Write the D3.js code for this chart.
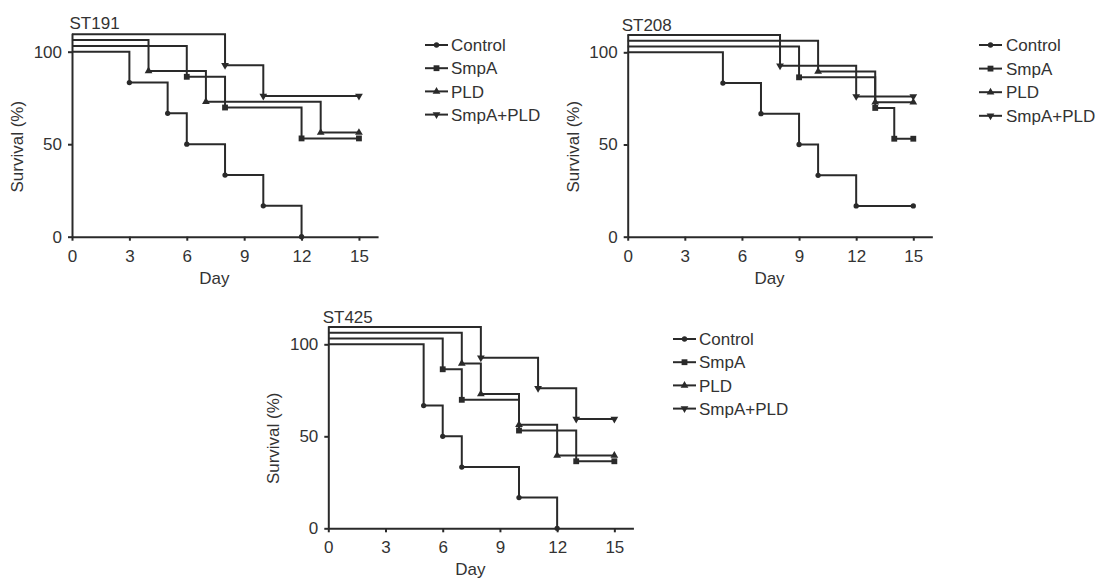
<!DOCTYPE html>
<html>
<head>
<meta charset="utf-8">
<script src="https://cdn.jsdelivr.net/npm/d3@7"></script>
<style>
  html, body { margin: 0; padding: 0; background: #fff; }
  svg { display: block; font-family: "Liberation Sans", Arial, Helvetica, sans-serif; }
</style>
</head>
<body>
<svg id="fig" width="1103" height="579"></svg>
<script>
// Kaplan–Meier survival curves for three strains, four treatment groups each.
const groups = ["Control", "SmpA", "PLD", "SmpA+PLD"];
const xTicks = [0, 3, 6, 9, 12, 15];
const yTicks = [0, 50, 100];
const strains = ["ST191", "ST208", "ST425"];

// Step points: day of each event and survival (%) after it.
const st191Days = [
  [0, 3, 5, 6, 8, 10, 12],
  [0, 6, 8, 12, 15],
  [0, 4, 7, 13, 15],
  [0, 8, 10, 15]
];
const st191Surv = [
  [100, 83.3, 66.7, 50, 33.3, 16.7, 0],
  [100, 83.3, 66.7, 50, 50],
  [100, 83.3, 66.7, 50, 50],
  [100, 83.3, 66.7, 66.7]
];

const st208Days = [
  [0, 5, 7, 9, 10, 12, 15],
  [0, 9, 13, 14, 15],
  [0, 10, 13, 15],
  [0, 8, 12, 15]
];
const st208Surv = [
  [100, 83.3, 66.7, 50, 33.3, 16.7, 16.7],
  [100, 83.3, 66.7, 50, 50],
  [100, 83.3, 66.7, 66.7],
  [100, 83.3, 66.7, 66.7]
];

const st425Days = [
  [0, 5, 6, 7, 10, 12],
  [0, 6, 7, 10, 13, 15],
  [0, 7, 8, 10, 12, 15],
  [0, 8, 11, 13, 15]
];
const st425Surv = [
  [100, 66.7, 50, 33.3, 16.7, 0],
  [100, 83.3, 66.7, 50, 33.3, 33.3],
  [100, 83.3, 66.7, 50, 33.3, 33.3],
  [100, 83.3, 66.7, 50, 50]
];

const strainDays = [st191Days, st208Days, st425Days];
const strainSurv = [st191Surv, st208Surv, st425Surv];

// ---- drawing ----
const INK = "#2a2a2a";
const TEXT = "#333";
const FONT = 17;
const STAGGER = 3.13;   // vertical stagger between curves, in % units

const symbols = [d3.symbolCircle, d3.symbolSquare, d3.symbolTriangle, d3.symbolTriangle];
const symbolSize = [22, 34, 26, 26];
const symbolRot = [0, 0, 0, 180];

const svg = d3.select("#fig");

function marker(g, i, x, y) {
  g.append("path")
    .attr("d", d3.symbol().type(symbols[i]).size(symbolSize[i])())
    .attr("transform", `translate(${x},${y}) rotate(${symbolRot[i]})`)
    .attr("fill", INK);
}

const panels = [
  { x0: 72,    y0: 236.7, dx: 19.13, dy: 1.85,  titleX: 69.5,  titleY: 28.5,
    ylabX: 23,  ylabY: 146.7, dayY: 284,
    leg: { x: 425, tx: 451, y: 45, step: 23.2 } },
  { x0: 627.7, y0: 236.7, dx: 19.04, dy: 1.844, titleX: 621.7, titleY: 30.5,
    ylabX: 579, ylabY: 146.7, dayY: 284,
    leg: { x: 979, tx: 1006, y: 45, step: 23.6 } },
  { x0: 328.3, y0: 528.3, dx: 19.07, dy: 1.84,  titleX: 322.7, titleY: 322.7,
    ylabX: 279, ylabY: 438.3, dayY: 575,
    leg: { x: 673, tx: 699, y: 339, step: 23.2 } }
];

panels.forEach((p, k) => {
  const x = d3.scaleLinear().domain([0, 16]).range([p.x0, p.x0 + 16 * p.dx]);
  const y = d3.scaleLinear().domain([0, 110]).range([p.y0, p.y0 - 110 * p.dy]);
  const g = svg.append("g");

  // axes
  const xAxis = d3.axisBottom(x).tickValues(xTicks).tickSize(4).tickSizeOuter(0).tickPadding(9);
  const yAxis = d3.axisLeft(y).tickValues(yTicks).tickSize(4).tickSizeOuter(0).tickPadding(6);

  const gx = g.append("g").attr("transform", `translate(0,${p.y0})`).call(xAxis);
  const gy = g.append("g").attr("transform", `translate(${p.x0},0)`).call(yAxis);
  [gx, gy].forEach(a => {
    a.select(".domain").attr("stroke", INK).attr("stroke-width", 2);
    a.selectAll(".tick line").attr("stroke", INK).attr("stroke-width", 2);
    a.selectAll(".tick text").attr("fill", TEXT).attr("font-size", FONT)
      .attr("font-family", "Liberation Sans, Arial, sans-serif");
  });

  // title
  g.append("text").attr("x", p.titleX).attr("y", p.titleY)
    .attr("font-size", FONT).attr("fill", TEXT).text(strains[k]);

  // axis titles
  g.append("text").attr("x", (x(0) + x(15)) / 2 - 1).attr("y", p.dayY)
    .attr("text-anchor", "middle").attr("font-size", FONT).attr("fill", TEXT).text("Day");
  g.append("text")
    .attr("transform", `translate(${p.ylabX},${p.ylabY}) rotate(-90)`)
    .attr("text-anchor", "middle").attr("font-size", FONT).attr("fill", TEXT).text("Survival (%)");

  // survival curves
  const line = d3.line().curve(d3.curveStepAfter).x(d => x(d[0])).y(d => y(d[1]));
  const days = strainDays[k], surv = strainSurv[k];
  groups.forEach((name, i) => {
    const pts = days[i].map((t, j) => [t, surv[i][j] + STAGGER * i]);
    g.append("path").attr("d", line(pts))
      .attr("fill", "none").attr("stroke", INK).attr("stroke-width", 2)
      .attr("stroke-linejoin", "miter");
    pts.slice(1).forEach(d => marker(g, i, x(d[0]), y(d[1])));
  });

  // legend
  const L = p.leg;
  groups.forEach((name, i) => {
    const yy = L.y + i * L.step;
    g.append("line").attr("x1", L.x).attr("x2", L.x + 23).attr("y1", yy).attr("y2", yy)
      .attr("stroke", INK).attr("stroke-width", 2);
    marker(g, i, L.x + 11.5, yy);
    g.append("text").attr("x", L.tx).attr("y", yy).attr("dy", "0.36em")
      .attr("font-size", FONT).attr("fill", TEXT).text(name);
  });
});
</script>
</body>
</html>
